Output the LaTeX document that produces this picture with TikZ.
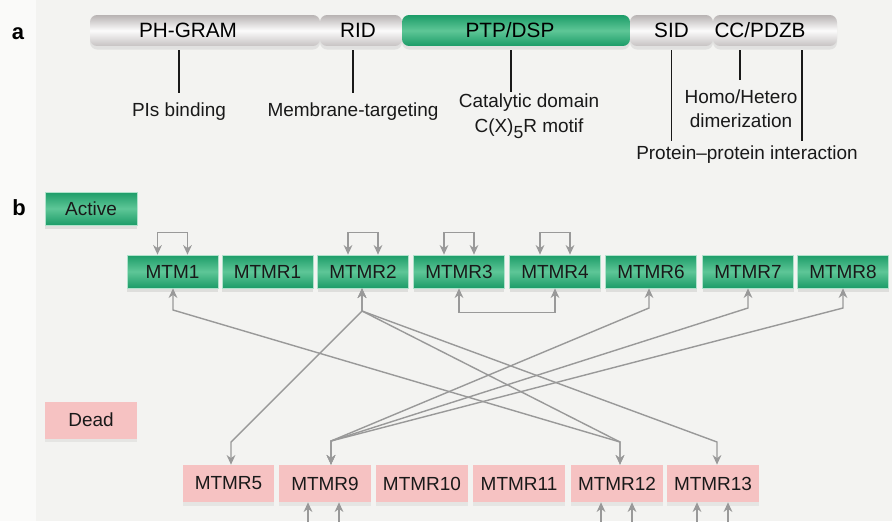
\documentclass[tikz,border=0pt]{standalone}
\usepackage{fontspec}
\setmainfont{Liberation Sans}
\usepackage{xcolor}
\usepackage{tikz}
\usetikzlibrary{positioning,arrows.meta,shadows,calc}
\definecolor{actgreen}{HTML}{1C9C68}
\definecolor{actlight}{HTML}{5EC697}
\definecolor{deadpink}{HTML}{F6C2C2}
\definecolor{linkgray}{HTML}{999999}
\definecolor{seggray}{HTML}{B8B3B3}
\definecolor{bggray}{HTML}{F3F3F1}
\tikzset{
  twoway/.style={{Stealth[length=5.5pt,width=5pt,inset=1.8pt]}-{Stealth[length=5.5pt,width=5pt,inset=1.8pt]}, line width=0.8pt, draw=linkgray},
  every node/.style={anchor=center}
}

\begin{document}
\begin{tikzpicture}[x=0.02cm, y=-0.02cm,
  font=\fontsize{10.8}{13.5}\selectfont,
  seg/.style={minimum height=0.62cm, inner sep=0pt, rounded corners=4pt, top color=seggray, bottom color=seggray!80!white, middle color=white!95!seggray, drop shadow={opacity=0.15, shadow xshift=0pt, shadow yshift=-2pt}},
  segact/.style={seg, top color=actgreen, bottom color=actgreen, middle color=actlight},
  seglabel/.style={font=\fontsize{11.8}{14}\selectfont, text=black},
  tick/.style={line width=0.9pt, draw=black!90},
  note/.style={align=center, inner sep=1pt, text=black!90},
  mtm/.style={minimum width=1.82cm, minimum height=0.66cm, inner sep=0pt, top color=actgreen, bottom color=actgreen, middle color=actlight, draw=actlight!50!white, line width=0.4pt, drop shadow={opacity=0.18, shadow xshift=0pt, shadow yshift=-2pt}, text=black!90},
  dead/.style={minimum width=1.84cm, minimum height=0.74cm, inner sep=0pt, fill=deadpink, drop shadow={opacity=0.12, shadow xshift=0pt, shadow yshift=-2pt}, text=black!90},
  panel/.style={font=\fontsize{12.5}{14}\selectfont\bfseries}
]
\useasboundingbox (0,0) rectangle (892,521);
\clip (0,0) rectangle (892,521);
\fill[white!60!bggray] (0,0) rectangle (892,521);
\fill[bggray] (36,0) rectangle (892,521);

% a: domain bar
\node[panel] (pa) at (18,34) {a};
\node[seg, minimum width=4.6cm, label={[seglabel, xshift=-0.34cm]center:PH-GRAM}] (ph) at (205,30.5) {};
\node[seg, minimum width=1.64cm, label={[seglabel, xshift=-0.06cm]center:RID}] (rid) at (361,30.5) {};
\node[segact, minimum width=4.56cm, label={[seglabel, xshift=-0.12cm]center:PTP/DSP}] (ptp) at (516,30.5) {};
\node[seg, minimum width=1.66cm, label={[seglabel]center:SID}] (sid) at (671.5,30.5) {};
\node[seg, minimum width=2.48cm, label={[seglabel, xshift=-0.3cm]center:CC/PDZB}] (cc) at (775,30.5) {};

\node[note] (pis) at (179,112) {PIs binding};
\node[note] (memb) at (353,112) {Membrane-targeting};
\node[note] (cat) at (529,116) {Catalytic domain\\[1pt] C(X)\raisebox{-3pt}{\fontsize{10}{10}\selectfont 5}R motif};
\node[note] (homo) at (741,108.5) {Homo/Hetero\\ dimerization};
\node[note] (ppi) at (747,155) {Protein--protein interaction};

\coordinate (ptpl) at ($(ptp.south)+(-5,0)$);
\coordinate (ccl) at ($(cc.south)+(-35,0)$);
\coordinate (ccr) at ($(cc.south)+(27,0)$);
\draw[tick, shorten <=0.08cm, shorten >=4.5pt] (ph.south -| pis.north) -- (pis.north);
\draw[tick, shorten <=0.08cm, shorten >=4.5pt] (rid.south -| memb.north) -- (memb.north);
\draw[tick, shorten <=0.08cm] (ptpl) -- (ptpl |- cat.north);
\draw[tick, shorten <=0.08cm, shorten >=2pt] (sid.south) -- (sid.south |- ppi.north);
\draw[tick, shorten <=0.08cm, shorten >=4.5pt] (ccl) -- (ccl |- homo.north);
\draw[tick, shorten <=0.08cm, shorten >=2pt] (ccr) -- (ccr |- ppi.north);

% b: active and dead members
\node[panel] (pb) at (19,208) {b};
\node[mtm, minimum width=1.84cm] (active) at (91,208.5) {Active};
\node[dead] (dead) at (91,420) {Dead};

\node[mtm] (mtm1) at (172.5,271.5) {MTM1};
\node[mtm] (mtmr1) at (267.5,271.5) {MTMR1};
\node[mtm] (mtmr2) at (363,271.5) {MTMR2};
\node[mtm] (mtmr3) at (459,271.5) {MTMR3};
\node[mtm] (mtmr4) at (555,271.5) {MTMR4};
\node[mtm] (mtmr6) at (651,271.5) {MTMR6};
\node[mtm] (mtmr7) at (748,271.5) {MTMR7};
\node[mtm] (mtmr8) at (843,271.5) {MTMR8};

\node[dead] (mtmr5) at (228.5,483.5) {MTMR5};
\node[dead] (mtmr9) at (325,483.5) {MTMR9};
\node[dead] (mtmr10) at (422,483.5) {MTMR10};
\node[dead] (mtmr11) at (519,483.5) {MTMR11};
\node[dead] (mtmr12) at (617,483.5) {MTMR12};
\node[dead] (mtmr13) at (713,483.5) {MTMR13};

% homo-dimers
\draw[twoway] ([xshift=-0.3cm]mtm1.north) -- ++(0,-22) -| ([xshift=0.3cm]mtm1.north);
\draw[twoway] ([xshift=-0.3cm]mtmr2.north) -- ++(0,-22) -| ([xshift=0.3cm]mtmr2.north);
\draw[twoway] ([xshift=-0.3cm]mtmr3.north) -- ++(0,-22) -| ([xshift=0.3cm]mtmr3.north);
\draw[twoway] ([xshift=-0.3cm]mtmr4.north) -- ++(0,-22) -| ([xshift=0.3cm]mtmr4.north);
\draw[twoway] ([xshift=-0.34cm]mtmr9.south) -- ++(0,36) -| ([xshift=0.28cm]mtmr9.south);
\draw[twoway] ([xshift=-0.32cm]mtmr12.south) -- ++(0,36) -| ([xshift=0.3cm]mtmr12.south);
\draw[twoway] ([xshift=-0.32cm]mtmr13.south) -- ++(0,36) -| ([xshift=0.3cm]mtmr13.south);

% hetero-dimers
\draw[twoway] (mtmr3.south) -- ++(0,24) -| (mtmr4.south);

\coordinate (j1) at (173,310);
\coordinate (j2) at (362,311);
\coordinate (j6) at (649,308);
\coordinate (j7) at (748,308);
\coordinate (j8) at (843,308);
\coordinate (j5) at (231,442);
\coordinate (j9) at (331,441);
\coordinate (j12) at (620,442);
\coordinate (j13) at (717,442);

\draw[twoway] (j1 |- mtm1.south) -- (j1) -- (j12) -- (j12 |- mtmr12.north);
\draw[twoway] (j2 |- mtmr2.south) -- (j2) -- (j5) -- (j5 |- mtmr5.north);
\draw[twoway] (j2 |- mtmr2.south) -- (j2) -- (j12) -- (j12 |- mtmr12.north);
\draw[twoway] (j2 |- mtmr2.south) -- (j2) -- (j13) -- (j13 |- mtmr13.north);
\draw[twoway] (j6 |- mtmr6.south) -- (j6) -- (j9) -- (j9 |- mtmr9.north);
\draw[twoway] (j7 |- mtmr7.south) -- (j7) -- (j9) -- (j9 |- mtmr9.north);
\draw[twoway] (j8 |- mtmr8.south) -- (j8) -- (j9) -- (j9 |- mtmr9.north);
\end{tikzpicture}
\end{document}
